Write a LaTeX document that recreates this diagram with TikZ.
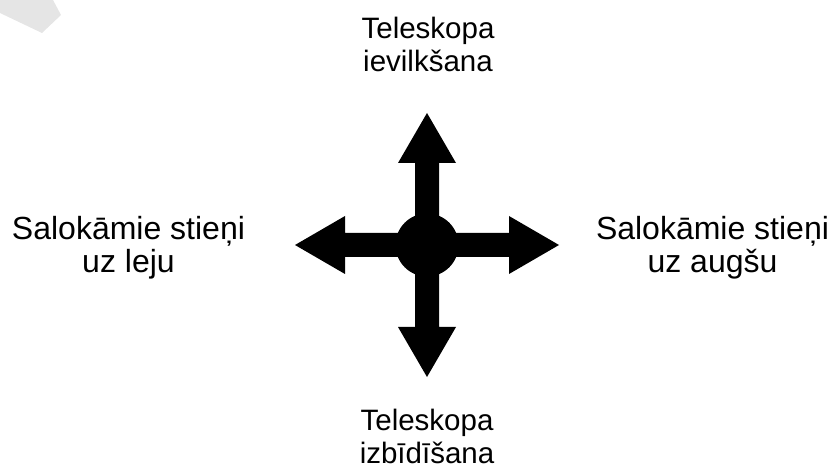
\documentclass[tikz,border=0pt]{standalone}
\usepackage{fontspec}
\setmainfont{Liberation Sans}
\usetikzlibrary{calc}
\begin{document}
\begin{tikzpicture}[x=1bp,y=-1bp,
  lbl/.style={align=center,anchor=base,inner sep=0pt,
    font=\fontsize{29.5bp}{33bp}\selectfont},
  sidelbl/.style={lbl,font=\fontsize{32bp}{33bp}\selectfont},
  arrowfill/.style={fill=black,draw=none}]
\useasboundingbox (0,0) rectangle (832,472);
% faint corner shape
\fill[black!10] (0,0) -- (53,0) -- (61,15) -- (42,33) -- (0,13) -- cycle;
% central symbol
\coordinate (c) at (427,245);
\foreach \a in {0,90,180,270}{
  \fill[arrowfill,rotate around={\a:(c)}]
    ($(c)+(0,-12)$) -- ++(82,0) -- ++(0,-17) -- ++(50,29) -- ++(-50,29) -- ++(0,-17) -- ++(-82,0) -- cycle;
}
\fill[arrowfill] (c) circle[radius=31.5];
% labels (anchor = baseline of last line)
\node[lbl] (top) at (428,71.5) {Teleskopa\\ievilkšana};
\node[lbl] (bot) at (427,463) {Teleskopa\\izbīdīšana};
\node[sidelbl] (left) at (128.5,273) {Salokāmie stieņi\\uz leju};
\node[sidelbl] (right) at (712.5,273) {Salokāmie stieņi\\uz augšu};
\end{tikzpicture}
\end{document}
